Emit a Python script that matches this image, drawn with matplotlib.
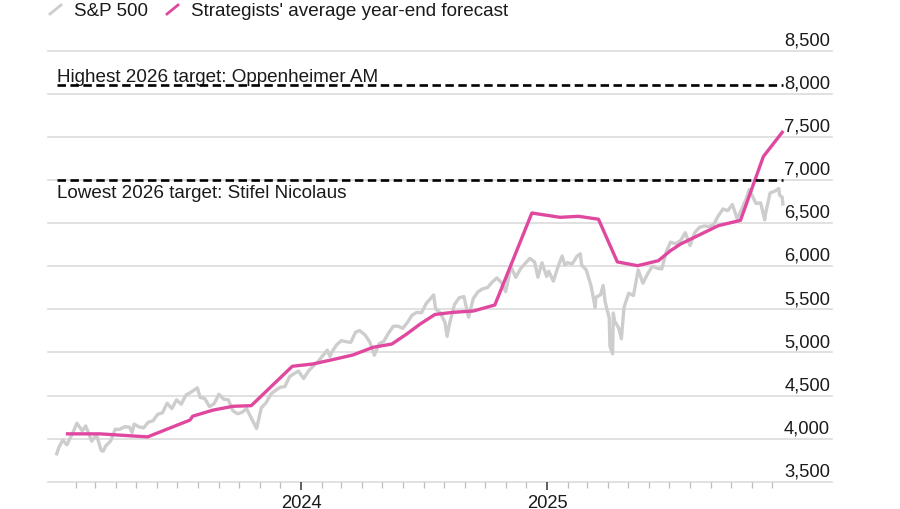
import matplotlib
matplotlib.use("Agg")
import matplotlib.pyplot as plt
import matplotlib.dates as mdates
from matplotlib.ticker import FixedLocator
from matplotlib.lines import Line2D
import pandas as pd
import numpy as np

plt.rcParams['font.family'] = ['Liberation Sans', 'DejaVu Sans']

# S&P 500 closes (roughly weekly)
spx_dates = [
    "2023-01-03", "2023-01-06", "2023-01-12", "2023-01-18", "2023-01-27", "2023-02-02", "2023-02-10",
    "2023-02-15", "2023-02-24", "2023-03-03", "2023-03-10", "2023-03-13", "2023-03-17", "2023-03-24",
    "2023-03-31", "2023-04-06", "2023-04-14", "2023-04-21", "2023-04-25", "2023-04-28", "2023-05-05",
    "2023-05-12", "2023-05-19", "2023-05-26", "2023-06-02", "2023-06-09", "2023-06-16", "2023-06-23",
    "2023-06-30", "2023-07-07", "2023-07-14", "2023-07-21", "2023-07-31", "2023-08-04", "2023-08-11",
    "2023-08-18", "2023-08-25", "2023-09-01", "2023-09-08", "2023-09-15", "2023-09-22", "2023-09-29",
    "2023-10-06", "2023-10-12", "2023-10-20", "2023-10-27", "2023-11-03", "2023-11-10", "2023-11-17",
    "2023-11-24", "2023-12-01", "2023-12-08", "2023-12-15", "2023-12-22", "2023-12-28",
    "2024-01-05", "2024-01-12", "2024-01-19", "2024-01-26", "2024-02-02", "2024-02-09", "2024-02-13",
    "2024-02-16", "2024-02-23", "2024-03-01", "2024-03-08", "2024-03-15", "2024-03-22", "2024-03-28",
    "2024-04-05", "2024-04-12", "2024-04-19", "2024-04-26", "2024-05-03", "2024-05-10", "2024-05-17",
    "2024-05-24", "2024-05-31", "2024-06-07", "2024-06-14", "2024-06-21", "2024-06-28", "2024-07-05",
    "2024-07-16", "2024-07-19", "2024-07-26", "2024-08-02", "2024-08-05", "2024-08-09", "2024-08-16",
    "2024-08-23", "2024-08-30", "2024-09-06", "2024-09-13", "2024-09-20", "2024-09-27", "2024-10-04",
    "2024-10-11", "2024-10-18", "2024-10-25", "2024-10-31", "2024-11-08", "2024-11-15", "2024-11-22",
    "2024-11-29", "2024-12-06", "2024-12-13", "2024-12-18", "2024-12-24", "2024-12-31",
    "2025-01-03", "2025-01-10", "2025-01-17", "2025-01-23", "2025-01-27", "2025-01-31", "2025-02-07",
    "2025-02-14", "2025-02-19", "2025-02-21", "2025-02-28", "2025-03-07", "2025-03-13", "2025-03-14",
    "2025-03-21", "2025-03-25", "2025-03-28", "2025-04-03", "2025-04-04", "2025-04-08", "2025-04-09",
    "2025-04-11", "2025-04-17", "2025-04-21", "2025-04-25", "2025-05-02", "2025-05-09", "2025-05-16",
    "2025-05-23", "2025-05-30", "2025-06-06", "2025-06-13", "2025-06-20", "2025-06-27", "2025-07-03",
    "2025-07-11", "2025-07-18", "2025-07-25", "2025-08-01", "2025-08-08", "2025-08-15", "2025-08-22",
    "2025-08-29", "2025-09-05", "2025-09-12", "2025-09-19", "2025-09-26", "2025-10-03", "2025-10-10",
    "2025-10-17", "2025-10-24", "2025-10-28", "2025-10-31", "2025-11-07", "2025-11-14", "2025-11-20",
    "2025-11-21", "2025-11-28", "2025-12-05", "2025-12-11", "2025-12-12", "2025-12-16", "2025-12-17",
]
spx_values = [
    3824, 3895, 3983, 3928, 4070, 4179, 4090,
    4147, 3970, 4045, 3862, 3855, 3917, 3971,
    4109, 4105, 4138, 4133, 4071, 4169, 4136,
    4124, 4191, 4205, 4282, 4299, 4410, 4348,
    4450, 4399, 4505, 4536, 4589, 4478, 4464,
    4370, 4406, 4515, 4457, 4450, 4320, 4288,
    4308, 4349, 4224, 4117, 4358, 4415, 4514,
    4559, 4595, 4604, 4719, 4755, 4783,
    4697, 4784, 4840, 4891, 4959, 5027, 4953,
    5006, 5089, 5137, 5124, 5117, 5234, 5254,
    5204, 5123, 4967, 5100, 5128, 5223, 5303,
    5305, 5278, 5347, 5432, 5465, 5460, 5567,
    5667, 5505, 5459, 5346, 5186, 5344, 5554,
    5634, 5648, 5408, 5626, 5703, 5738, 5751,
    5815, 5864, 5808, 5705, 5995, 5870, 5969,
    6032, 6090, 6051, 5872, 6040, 5882,
    5942, 5827, 5997, 6119, 6012, 6041, 6026,
    6115, 6144, 6013, 5955, 5770, 5522, 5639,
    5667, 5777, 5581, 5397, 5074, 4983, 5457,
    5363, 5283, 5158, 5525, 5687, 5660, 5958,
    5803, 5912, 6000, 5977, 5967, 6173, 6279,
    6260, 6297, 6389, 6238, 6389, 6450, 6467,
    6460, 6482, 6584, 6664, 6644, 6716, 6553,
    6664, 6792, 6891, 6840, 6729, 6734, 6538,
    6603, 6849, 6870, 6901, 6827, 6800, 6721,
]

# strategists' average year-end forecast
fc_dates = [
    "2023-01-19", "2023-03-08", "2023-05-18", "2023-07-20", "2023-07-24", "2023-08-23", "2023-09-22",
    "2023-10-19", "2023-12-19", "2024-01-18", "2024-02-17", "2024-03-18", "2024-04-17", "2024-05-15",
    "2024-06-06", "2024-06-26", "2024-07-18", "2024-08-14", "2024-09-13", "2024-10-15", "2024-12-09",
    "2025-01-20", "2025-02-16", "2025-03-18", "2025-04-15", "2025-05-15", "2025-06-15", "2025-07-03",
    "2025-07-18", "2025-09-12", "2025-10-15", "2025-11-18", "2025-12-16",
]
fc_values = [
    4055, 4055, 4020, 4215, 4260, 4330, 4375,
    4382, 4839, 4865, 4916, 4970, 5059, 5097,
    5213, 5329, 5440, 5465, 5480, 5550, 6617,
    6567, 6579, 6545, 6050, 6006, 6064, 6180,
    6257, 6470, 6532, 7272, 7553,
]

high_target = 8100
high_label = "Highest 2026 target: Oppenheimer AM"
low_target = 7000
low_label = "Lowest 2026 target: Stifel Nicolaus"

y_ticks = [3500, 4000, 4500, 5000, 5500, 6000, 6500, 7000, 7500, 8000, 8500]

spx_x = pd.to_datetime(spx_dates)
fc_x = pd.to_datetime(fc_dates)

GRAY = "#cdcdcd"
PINK = "#e0489f"
GRID = "#d9d9d9"
TXT = 13.6

fig = plt.figure(figsize=(9, 5.1), dpi=100)
ax = fig.add_axes([48 / 900, 27.3 / 510, 784 / 900, 431 / 510])

ax.set_xlim(pd.Timestamp("2022-12-21"), pd.Timestamp("2026-02-28"))
ax.set_ylim(3500, 8500)

for v in y_ticks:
    ax.axhline(v, color=GRID, lw=1.1, zorder=0, clip_on=False)
    ax.annotate(f"{v:,}", xy=(0.9975, v), xycoords=ax.get_yaxis_transform(),
                xytext=(0, 4.5), textcoords="offset points",
                ha="right", va="baseline", fontsize=13.2, color="#1a1a1a",
                annotation_clip=False)

ax.plot(spx_x, spx_values, color=GRAY, lw=2.4, zorder=2, solid_joinstyle="round")
ax.plot(fc_x, fc_values, color=PINK, lw=2.4, zorder=3, solid_joinstyle="round")

x0, x1 = spx_x[0], spx_x[-1]
for v in (high_target, low_target):
    ax.plot([x0, x1], [v, v], color="black", lw=1.9, dashes=(3.2, 1.7), zorder=4)
ax.annotate(high_label, xy=(x0, high_target), xytext=(0, 3.2),
            textcoords="offset points", ha="left", va="baseline",
            fontsize=TXT, color="#1a1a1a")
ax.annotate(low_label, xy=(x0, low_target), xytext=(0, -12.3),
            textcoords="offset points", ha="left", va="baseline",
            fontsize=TXT, color="#1a1a1a")

for s in ax.spines.values():
    s.set_visible(False)
ax.set_yticks([])

ax.set_xticks([pd.Timestamp("2024-01-01"), pd.Timestamp("2025-01-01")])
ax.xaxis.set_major_formatter(mdates.DateFormatter("%Y"))
months = pd.date_range("2023-02-01", "2025-12-01", freq="MS")
ax.xaxis.set_minor_locator(FixedLocator(mdates.date2num(months)))
ax.tick_params(axis="x", which="major", length=5.5, width=1.1, color="#333333",
               labelsize=13.2, pad=3, labelcolor="#1a1a1a")
ax.tick_params(axis="x", which="minor", length=4, width=0.9, color="#bdbdbd")

# legend with slash markers
def px(x, y):
    return x / 900, 1 - y / 510

fig.add_artist(Line2D([px(50, 15)[0], px(61, 6)[0]], [px(50, 15)[1], px(61, 6)[1]],
                      color=GRAY, lw=2.0, transform=fig.transFigure))
fig.add_artist(Line2D([px(167, 15)[0], px(178, 6)[0]], [px(167, 15)[1], px(178, 6)[1]],
                      color=PINK, lw=2.0, transform=fig.transFigure))
fig.text(*px(74, 15.5), "S&P 500", fontsize=TXT, va="baseline", ha="left", color="#1a1a1a")
fig.text(*px(191, 15.5), "Strategists' average year-end forecast", fontsize=TXT,
         va="baseline", ha="left", color="#1a1a1a")

fig.savefig("out.png", dpi=100)
